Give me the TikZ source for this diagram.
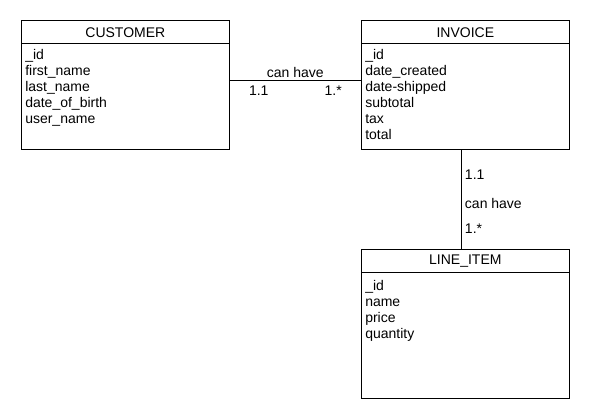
\documentclass[tikz,border=0pt]{standalone}
\usepackage{fontspec}
\setmainfont{Liberation Sans}
\usetikzlibrary{positioning}

\tikzset{
  entity/.style={draw, line width=0.8pt, minimum width=156.2pt, minimum height=96.75pt, inner sep=0pt, anchor=north west},
  head/.style={draw, line width=0.8pt, minimum width=156.2pt, minimum height=17.5pt, inner sep=0pt, anchor=north, font=\fontsize{10.5}{12}\selectfont},
  attrs/.style={anchor=north west, align=left, inner sep=0pt, font=\fontsize{10.5}{12}\selectfont},
  rel/.style={inner sep=2.5pt, font=\fontsize{10.5}{12}\selectfont},
}

\begin{document}
\begin{tikzpicture}[x=0.75pt,y=0.75pt,yscale=-1]
\useasboundingbox (0,0) rectangle (590,420);

% CUSTOMER
\node[entity] (cust) at (20.7,20) {};
\node[head] (cust-h) at (cust.north) {CUSTOMER};
\node[attrs] (cust-a) at (25,49.5) {\_id\\first\_name\\last\_name\\date\_of\_birth\\user\_name};

% INVOICE
\node[entity] (inv) at (360.7,20) {};
\node[head] (inv-h) at (inv.north) {INVOICE};
\node[attrs] (inv-a) at (365,49.5) {\_id\\date\_created\\date-shipped\\subtotal\\tax\\total};

% LINE_ITEM
\node[entity, minimum height=111.75pt] (item) at (360.7,249) {};
\node[head] (item-h) at (item.north) {LINE\_ITEM};
\node[attrs] (item-a) at (365,280.5) {\_id\\name\\price\\quantity};

% relations
\draw[line width=0.8pt] ([yshift=-3.4pt]cust.east) -- node[rel, above, inner sep=2pt] {can have}
  node[rel, pos=0.22, below=1.5pt] {1.1} node[rel, pos=0.79, below=1.5pt] {1.*} ([yshift=-3.4pt]inv.west);
\draw[line width=0.8pt] ([xshift=-3.2pt]inv.south) -- node[rel, pos=0.245, right] {1.1}
  node[rel, pos=0.545, right] {can have} node[rel, pos=0.79, right] {1.*} ([xshift=-3.2pt]item.north);

\end{tikzpicture}
\end{document}
